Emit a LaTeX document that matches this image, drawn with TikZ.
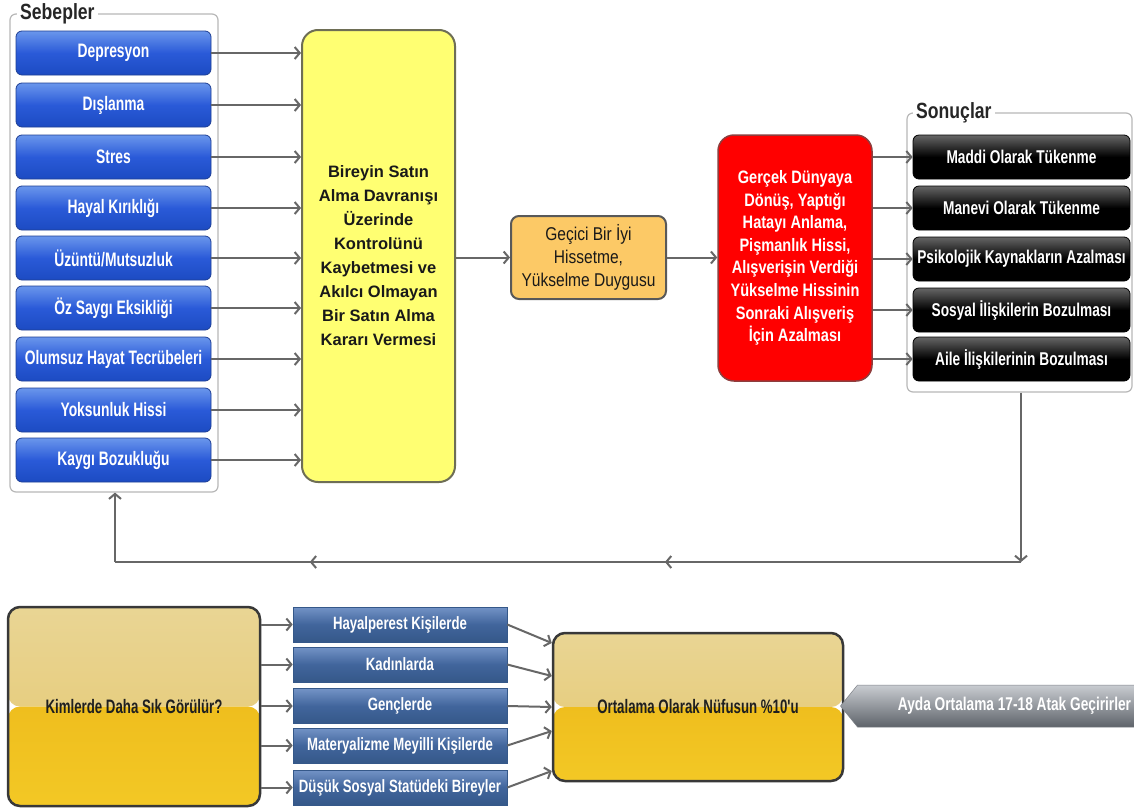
\documentclass[tikz,border=0pt]{standalone}
\usepackage{fontspec}
\setmainfont{Liberation Sans}
\newfontfamily\narrowfont[FakeStretch=0.8]{Liberation Sans}
\newfontfamily\condA[FakeStretch=0.71]{Liberation Sans}
\newfontfamily\condB[FakeStretch=0.74]{Liberation Sans}
\newfontfamily\condC[FakeStretch=0.68]{Liberation Sans}
\newfontfamily\semifont[FakeStretch=0.81]{Liberation Sans}
\newfontfamily\orafont[FakeStretch=0.84]{Liberation Sans}
\usetikzlibrary{arrows.meta,decorations.markings,shapes.symbols}
\definecolor{lineG}{HTML}{676767}
\definecolor{frameG}{HTML}{B8B8B8}
\definecolor{blueT}{HTML}{6A96EC}
\definecolor{blueM}{HTML}{2A5AD8}
\definecolor{blueB}{HTML}{1C4BC2}
\definecolor{blueD}{HTML}{1E3F94}
\definecolor{steelT}{HTML}{7393C6}
\definecolor{steelM}{HTML}{41659C}
\definecolor{steelB}{HTML}{355889}
\definecolor{yel}{HTML}{FFFF72}
\definecolor{yelD}{HTML}{6E6E55}
\definecolor{ora}{HTML}{FCC966}
\definecolor{redF}{HTML}{FF0000}
\definecolor{redD}{HTML}{8E3E3E}
\definecolor{goldA}{HTML}{E9D594}
\definecolor{goldB}{HTML}{E5C76E}
\definecolor{goldC}{HTML}{EFBE1E}
\definecolor{goldD}{HTML}{F3C825}
\definecolor{grayT}{HTML}{C9CCD1}
\definecolor{grayB}{HTML}{5E636A}
\tikzset{
  arr/.style={draw=lineG, line width=2pt, -{Straight Barb[length=5pt,width=12pt]}},
  fbline/.style={draw=lineG, line width=2pt},
  frame/.style={draw=frameG, line width=1.2pt, rounded corners=6pt},
  framelabel/.style={fill=white, inner xsep=3pt, inner ysep=1pt, anchor=west,
    font=\narrowfont\bfseries\fontsize{22}{24}\selectfont, text=black!85},
  bluebox/.style={draw=blueD, line width=0.8pt, rounded corners=6pt,
    top color=blueT, bottom color=blueB, middle color=blueM,
    minimum width=195pt, minimum height=44pt, inner sep=0pt, text=white,
    font=\condA\bfseries\fontsize{19.5}{21}\selectfont},
  blackbox/.style={draw=black, line width=0.8pt, rounded corners=6pt,
    top color=black!60, bottom color=black, middle color=black,
    minimum width=217pt, minimum height=44pt, inner sep=0pt, text=white,
    font=\condB\bfseries\fontsize{18.5}{20}\selectfont},
  steelbox/.style={draw=steelB, line width=0.6pt,
    top color=steelT, bottom color=steelB, middle color=steelM,
    minimum width=214pt, minimum height=35pt, inner sep=0pt, text=white,
    font=\condB\bfseries\fontsize{17.8}{19}\selectfont},
  goldbox/.style={draw=black!78, line width=2.5pt, rounded corners=12pt, inner sep=0pt,
    text=black!88, font=\condC\bfseries\fontsize{19.5}{21}\selectfont,
    path picture={
      \shade[top color=goldA, bottom color=goldB] (path picture bounding box.north west) rectangle (path picture bounding box.east);
      \shade[top color=goldC, bottom color=goldD] (path picture bounding box.west) rectangle (path picture bounding box.south east);
    }},
  markarr/.style={postaction={decorate}, decoration={markings,
    mark=at position 0.393 with {\arrow{Straight Barb[length=5pt,width=12pt]}},
    mark=at position 0.785 with {\arrow{Straight Barb[length=5pt,width=12pt]}}}}
}
\begin{document}
\begin{tikzpicture}[x=1pt,y=-1pt]
\useasboundingbox[fill=white] (0,0) rectangle (1134,809);

% group frames
\node[frame, minimum width=208pt, minimum height=478pt] (sebframe) at (114,253) {};
\node[framelabel] (seblabel) at (17,14) {Sebepler};
\node[frame, minimum width=225pt, minimum height=279pt] (sonframe) at (1019.5,252.5) {};
\node[framelabel] (sonlabel) at (913,113) {Sonuçlar};

% causes
\node[bluebox] (s1) at (113.5,53) {Depresyon};
\node[bluebox] (s2) at (113.5,105) {Dışlanma};
\node[bluebox] (s3) at (113.5,157) {Stres};
\node[bluebox] (s4) at (113.5,208) {Hayal Kırıklığı};
\node[bluebox] (s5) at (113.5,258) {Üzüntü/Mutsuzluk};
\node[bluebox] (s6) at (113.5,308) {Öz Saygı Eksikliği};
\node[bluebox] (s7) at (113.5,359) {Olumsuz Hayat Tecrübeleri};
\node[bluebox] (s8) at (113.5,410) {Yoksunluk Hissi};
\node[bluebox] (s9) at (113.5,460) {Kaygı Bozukluğu};

% main chain
\node[draw=yelD, line width=2pt, rounded corners=16pt, fill=yel,
  minimum width=153pt, minimum height=452pt, inner sep=0pt, align=center,
  font=\bfseries\fontsize{16.5}{24}\selectfont, text=black!90] (yb) at (378.5,256)
  {Bireyin Satın\\Alma Davranışı\\Üzerinde\\Kontrolünü\\Kaybetmesi ve\\Akılcı Olmayan\\Bir Satın Alma\\Kararı Vermesi};
\node[draw=black!65, line width=2pt, rounded corners=8pt, fill=ora,
  minimum width=155pt, minimum height=83pt, inner sep=0pt, align=center,
  font=\orafont\fontsize{18.5}{23}\selectfont, text=black!90] (ob) at (588.5,257.5)
  {Geçici Bir İyi\\Hissetme,\\Yükselme Duygusu};
\node[draw=redD, line width=1.5pt, rounded corners=16pt, fill=redF,
  minimum width=154pt, minimum height=246pt, inner sep=0pt, align=center,
  font=\semifont\bfseries\fontsize{18}{22.6}\selectfont, text=white] (rb) at (795,258)
  {Gerçek Dünyaya\\Dönüş, Yaptığı\\Hatayı Anlama,\\Pişmanlık Hissi,\\Alışverişin Verdiği\\Yükselme Hissinin\\Sonraki Alışveriş\\İçin Azalması};

% results
\node[blackbox] (r1) at (1021.5,157) {Maddi Olarak Tükenme};
\node[blackbox] (r2) at (1021.5,208) {Manevi Olarak Tükenme};
\node[blackbox] (r3) at (1021.5,259) {Psikolojik Kaynakların Azalması};
\node[blackbox] (r4) at (1021.5,310) {Sosyal İlişkilerin Bozulması};
\node[blackbox] (r5) at (1021.5,359) {Aile İlişkilerinin Bozulması};

% arrows causes -> yellow
\foreach \i in {1,...,9} {\draw[arr] (s\i.east) -- (s\i.east -| yb.west);}
\draw[arr] (yb.east |- ob.west) -- (ob.west);
\draw[arr] (ob.east) -- (ob.east -| rb.west);
\foreach \i in {1,...,5} {\draw[arr] (rb.east |- r\i.west) -- (r\i.west);}

% feedback loop
\coordinate (fb1) at (1021,562);
\coordinate (fb2) at (115,562);
\draw[arr] (fb1 |- sonframe.south) -- (fb1);
\draw[fbline, markarr] (fb1) -- (fb2);
\draw[arr] (fb2) -- (fb2 |- sebframe.south);

% bottom part
\node[goldbox, minimum width=252pt, minimum height=199pt] (kim) at (134,706.5) {Kimlerde Daha Sık Görülür?};
\node[steelbox] (k1) at (400,624.5) {Hayalperest Kişilerde};
\node[steelbox] (k2) at (400,664.5) {Kadınlarda};
\node[steelbox] (k3) at (400,706) {Gençlerde};
\node[steelbox] (k4) at (400,745.5) {Materyalizme Meyilli Kişilerde};
\node[steelbox] (k5) at (400,787.5) {Düşük Sosyal Statüdeki Bireyler};
\node[goldbox, minimum width=290pt, minimum height=148pt] (ort) at (698,707) {Ortalama Olarak Nüfusun \%10'u};

\foreach \i in {1,...,5} {\draw[arr] (kim.east |- k\i.west) -- (k\i.west);}
\coordinate (t1) at (ort.west |- 0,643);
\coordinate (t2) at (ort.west |- 0,676);
\coordinate (t3) at (ort.west |- 0,707);
\coordinate (t4) at (ort.west |- 0,731);
\coordinate (t5) at (ort.west |- 0,771);
\foreach \i in {1,...,5} {\draw[arr] (k\i.east) -- (t\i);}

\node[signal, signal to=west, signal from=nowhere, signal pointer angle=102,
  top color=grayT, bottom color=grayB, draw=grayB!80, line width=0.5pt,
  minimum width=331pt, minimum height=42pt, inner sep=0pt, text=white,
  font=\condB\bfseries\fontsize{18.5}{20}\selectfont] (ayda) at (1014.5,706)
  {Ayda Ortalama 17-18 Atak Geçirirler};
\end{tikzpicture}
\end{document}
